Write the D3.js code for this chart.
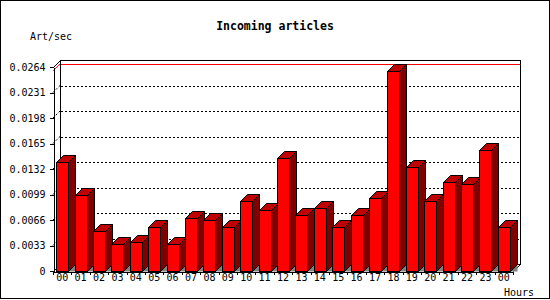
<!DOCTYPE html>
<html>
<head>
<meta charset="utf-8">
<script src="https://cdn.jsdelivr.net/npm/d3@7"></script>
<style>
  body { margin: 0; background: #fff; overflow: hidden; }
  svg { display: block; }
  text { font-family: "DejaVu Sans Mono", monospace; fill: #000; }
</style>
</head>
<body>
<div id="chart"></div>
<script>
// hours on the x axis (last one wraps to 00 again)
const hours = ["00","01","02","03","04","05","06","07","08","09","10","11",
  "12","13","14","15","16","17","18","19","20","21","22","23","00"];
// incoming articles per second
const artPerSec = [0.0141, 0.0098, 0.0052, 0.0035, 0.0037, 0.0057, 0.0035, 0.0068,
  0.0066, 0.0057, 0.0091, 0.0079, 0.0146, 0.0073, 0.0081, 0.0057, 0.0073, 0.0095,
  0.0259, 0.0134, 0.0090, 0.0115, 0.0112, 0.0157, 0.0057];
const yTicks = [0, 0.0033, 0.0066, 0.0099, 0.0132, 0.0165, 0.0198, 0.0231, 0.0264];
const yTickLabels = ["0", "0.0033", "0.0066", "0.0099", "0.0132", "0.0165", "0.0198", "0.0231", "0.0264"];

(function () {
  const W = 550, H = 300;
  const left = 53, right = 513, top = 67, bottom = 271;
  const depth = 7;

  const svg = d3.select("#chart").append("svg")
    .attr("width", W).attr("height", H);

  // outer frame
  svg.append("rect")
    .attr("x", 0.5).attr("y", 0.5)
    .attr("width", W - 1).attr("height", H - 2)
    .attr("fill", "#fff").attr("stroke", "#000");

  const xBand = d3.scaleBand().domain(d3.range(hours.length))
    .range([left, right]).paddingInner(0.35).paddingOuter(0.175);
  const xSlot = d3.scaleLinear().domain([0, hours.length]).range([left, right]);
  const y = d3.scaleLinear().domain([0, 0.0264]).range([bottom, top]);

  const r = v => Math.round(v) + 0.5;

  // back plane frame
  svg.append("rect")
    .attr("x", r(left + depth)).attr("y", r(top - depth))
    .attr("width", right - left).attr("height", bottom - top)
    .attr("fill", "none").attr("stroke", "#000");

  // dotted grid on the back and left wall
  const grid = yTicks.slice(1, -1);
  svg.append("g").selectAll("line").data(grid).join("line")
    .attr("x1", left + depth + 1).attr("x2", right + depth)
    .attr("y1", d => r(y(d) - depth)).attr("y2", d => r(y(d) - depth))
    .attr("stroke", "#000").attr("stroke-dasharray", "2,2")
    .attr("shape-rendering", "crispEdges");
  svg.append("g").selectAll("line").data(grid).join("line")
    .attr("x1", left).attr("x2", left + depth)
    .attr("y1", d => y(d)).attr("y2", d => y(d) - depth)
    .attr("stroke", "#000").attr("stroke-dasharray", "2,2");

  // corner diagonals
  svg.append("line").attr("x1", r(left)).attr("y1", r(top))
    .attr("x2", r(left + depth)).attr("y2", r(top - depth)).attr("stroke", "#000");
  svg.append("line").attr("x1", r(right)).attr("y1", r(bottom))
    .attr("x2", r(right + depth)).attr("y2", r(bottom - depth)).attr("stroke", "#000");
  svg.append("line").attr("x1", r(left)).attr("y1", r(bottom))
    .attr("x2", r(left + depth)).attr("y2", r(bottom - depth)).attr("stroke", "#000");

  // red max line
  const maxV = d3.max(artPerSec);
  svg.append("line")
    .attr("x1", left + depth + 1).attr("x2", right + depth)
    .attr("y1", r(y(maxV) - depth)).attr("y2", r(y(maxV) - depth))
    .attr("stroke", "#ff0000").attr("shape-rendering", "crispEdges");
  svg.append("line")
    .attr("x1", left).attr("y1", y(maxV))
    .attr("x2", left + depth).attr("y2", y(maxV) - depth)
    .attr("stroke", "#ff0000");

  // 3d bars
  const bars = svg.append("g").selectAll("g").data(artPerSec).join("g");
  bars.each(function (d, i) {
    const g = d3.select(this);
    const x0 = Math.round(xBand(i)) + 0.5;
    const x1 = Math.round(xBand(i) + xBand.bandwidth()) + 0.5;
    const yt = Math.round(y(d)) + 0.5;
    const yb = bottom + 0.5;
    // grey floor shadow
    g.append("path")
      .attr("d", `M${x1},${yb}L${x1 + depth},${yb - depth}L${x1 + depth},${yb}Z`)
      .attr("fill", "#808080");
    // side
    g.append("path")
      .attr("d", `M${x1},${yt}L${x1 + depth},${yt - depth}L${x1 + depth},${yb - depth}L${x1},${yb}Z`)
      .attr("fill", "#800000").attr("stroke", "#000");
    // top
    g.append("path")
      .attr("d", `M${x0},${yt}L${x0 + depth},${yt - depth}L${x1 + depth},${yt - depth}L${x1},${yt}Z`)
      .attr("fill", "#c00000").attr("stroke", "#000");
    // front
    g.append("rect")
      .attr("x", x0).attr("y", yt)
      .attr("width", x1 - x0).attr("height", yb - yt)
      .attr("fill", "#ff0000").attr("stroke", "#000");
  });

  // y axis (front)
  const yAxis = svg.append("g")
    .attr("transform", `translate(${r(left)},0)`)
    .call(d3.axisLeft(y).tickValues(yTicks)
      .tickFormat((d, i) => yTickLabels[i]).tickSize(4).tickSizeOuter(0).tickPadding(4));
  yAxis.selectAll("text").attr("font-size", 10).attr("font-family", "DejaVu Sans Mono");
  yAxis.selectAll("path,line").attr("stroke", "#000").attr("shape-rendering", "crispEdges");

  // x axis: ticks at slot edges, labels at slot centres
  const xAxis = svg.append("g")
    .attr("transform", `translate(0,${bottom + 0.5})`)
    .call(d3.axisBottom(xSlot).tickValues(d3.range(hours.length + 1))
      .tickFormat("").tickSize(3).tickSizeOuter(0));
  xAxis.selectAll("path,line").attr("stroke", "#000").attr("shape-rendering", "crispEdges");

  svg.append("g").selectAll("text").data(hours).join("text")
    .attr("x", (d, i) => xBand(i) + xBand.bandwidth() / 2)
    .attr("y", 281)
    .attr("text-anchor", "middle")
    .attr("font-size", 10)
    .text(d => d);

  svg.append("text")
    .attr("x", 275).attr("y", 30)
    .attr("text-anchor", "middle")
    .attr("font-size", 11.5).attr("font-weight", "bold")
    .text("Incoming articles");

  svg.append("text")
    .attr("x", 30).attr("y", 40)
    .attr("font-size", 10)
    .text("Art/sec");

  svg.append("text")
    .attr("x", 534).attr("y", 296)
    .attr("text-anchor", "end")
    .attr("font-size", 10)
    .text("Hours");
})();
</script>
</body>
</html>
